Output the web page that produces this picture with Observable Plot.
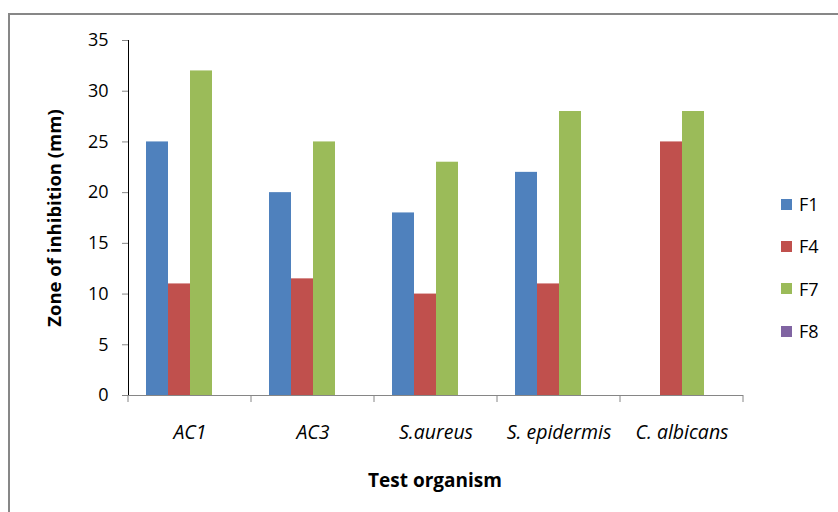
<!DOCTYPE html>
<html>
<head>
<meta charset="utf-8">
<script src="https://cdn.jsdelivr.net/npm/d3@7"></script>
<script src="https://cdn.jsdelivr.net/npm/@observablehq/plot@0.6"></script>
<style>
  html, body { margin: 0; padding: 0; background: #fff; }
  #wrap { position: relative; width: 838px; height: 512px; overflow: hidden; font-family: 'Open Sans', sans-serif; }
  #frame { position: absolute; left: 8px; top: 13px; width: 900px; height: 600px; border: 2px solid #878787; box-sizing: border-box; }
  #chart { position: absolute; left: 0; top: 0; }
  .title { position: absolute; font-weight: bold; font-size: 18px; line-height: 1; white-space: nowrap; color: #000; }
  #ytitle { left: 54px; top: 218px; font-size: 18.5px; transform: translate(-50%, -50%) rotate(-90deg); }
  #xtitle { left: 435px; top: 480px; font-size: 19px; transform: translate(-50%, -50%); }
  #legend { position: absolute; left: 781px; top: 0; }
  .item { position: absolute; left: 0; display: flex; align-items: center; font-size: 18px; line-height: 1; white-space: nowrap; }
  .sw { width: 11px; height: 11px; margin-right: 7px; }
  g[aria-label^="fx-axis"] text { font-style: italic; font-size: 19.5px; }
  g[aria-label^="y-axis"] line, g[aria-label^="y-axis"] path { stroke: #868686; }
</style>
</head>
<body>
<div id="wrap">
  <div id="frame"></div>
  <div id="chart"></div>
  <div id="ytitle" class="title">Zone of inhibition (mm)</div>
  <div id="xtitle" class="title">Test organism</div>
  <div id="legend"></div>
</div>
<script>
const categories = ["AC1", "AC3", "S.aureus", "S. epidermis", "C. albicans"];
const series = ["F1", "F4", "F7", "F8"];
const F1 = [25, 20, 18, 22, null];
const F4 = [11, 11.5, 10, 11, 25];
const F7 = [32, 25, 23, 28, 28];
const F8 = [null, null, null, null, null];
const colors = ["#4F81BD", "#C0504D", "#9BBB59", "#8064A2"];

const values = {F1, F4, F7, F8};
const rows = [];
categories.forEach((c, i) => {
  series.forEach(s => {
    const v = values[s][i];
    if (v != null) rows.push({org: c, series: s, value: v});
  });
});

const chart = Plot.plot({
  width: 838,
  height: 512,
  marginTop: 40,
  marginBottom: 117,
  marginLeft: 128,
  marginRight: 95,
  style: {fontFamily: "'Open Sans', sans-serif", fontSize: "18px", color: "#000", background: "transparent", overflow: "visible"},
  fx: {domain: categories, padding: 0, label: null, tickSize: 0, tickPadding: 30, axis: "bottom"},
  x: {domain: series, paddingInner: 0, paddingOuter: 0.786, axis: null},
  y: {domain: [0, 35], ticks: 7, tickSize: 6, tickPadding: 14, label: null, line: true, grid: false},
  color: {domain: series, range: colors},
  marks: [
    Plot.barY(rows, {fx: "org", x: "series", y: "value", fill: "series"}),
    Plot.ruleY([0], {stroke: "#868686"})
  ]
});
document.getElementById("chart").appendChild(chart);

// category boundary ticks (Excel style) from the fx scale
const fx = chart.scale("fx");
const ys = chart.scale("y");
const y0 = ys.apply(0);
const bounds = categories.map(c => fx.apply(c));
bounds.push(fx.apply(categories[categories.length - 1]) + fx.bandwidth);
d3.select(chart).append("g")
  .attr("stroke", "#868686")
  .selectAll("line")
  .data(bounds)
  .join("line")
  .attr("x1", d => d).attr("x2", d => d)
  .attr("y1", y0).attr("y2", y0 + 7);

// legend
const legend = document.getElementById("legend");
const color = chart.scale("color");
series.forEach((s, i) => {
  const item = document.createElement("div");
  item.className = "item";
  item.style.top = (195 + i * 42.4) + "px";
  item.innerHTML = `<span class="sw" style="background:${color.apply(s)}"></span><span>${s}</span>`;
  legend.appendChild(item);
});
</script>
</body>
</html>
